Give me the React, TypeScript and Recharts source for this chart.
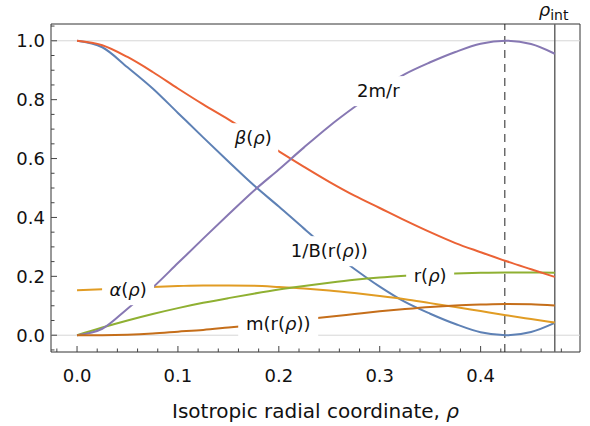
import { LineChart, Line, XAxis, YAxis, ReferenceLine, ReferenceDot, ReferenceArea } from 'recharts'

// sample points along the isotropic radial coordinate
const rho = [0, 0.025, 0.05, 0.075, 0.1, 0.125, 0.15, 0.175, 0.2, 0.225, 0.25, 0.275, 0.3, 0.325, 0.35, 0.375, 0.4, 0.425, 0.45, 0.4735]

const invB = [1.0, 0.978, 0.91, 0.838, 0.755, 0.672, 0.59, 0.51, 0.437, 0.362, 0.29, 0.225, 0.165, 0.113, 0.073, 0.038, 0.01, 0.0, 0.011, 0.042]
const alpha = [0.153, 0.156, 0.16, 0.164, 0.167, 0.169, 0.169, 0.168, 0.164, 0.159, 0.152, 0.143, 0.133, 0.122, 0.109, 0.096, 0.082, 0.068, 0.055, 0.043]
const radius = [0, 0.026, 0.05, 0.072, 0.092, 0.11, 0.126, 0.141, 0.155, 0.167, 0.178, 0.188, 0.196, 0.202, 0.207, 0.21, 0.212, 0.213, 0.213, 0.2125]
const beta = [1.0, 0.985, 0.945, 0.894, 0.838, 0.784, 0.733, 0.679, 0.625, 0.572, 0.521, 0.474, 0.432, 0.39, 0.35, 0.313, 0.282, 0.252, 0.224, 0.198]
const twoMr = [0, 0.022, 0.09, 0.162, 0.245, 0.328, 0.41, 0.49, 0.563, 0.638, 0.71, 0.775, 0.835, 0.887, 0.927, 0.962, 0.99, 1.0, 0.989, 0.956]
const mass = [0, 0.0003, 0.002, 0.006, 0.012, 0.018, 0.026, 0.034, 0.043, 0.053, 0.063, 0.072, 0.081, 0.089, 0.096, 0.101, 0.104, 0.106, 0.105, 0.101]

const RHO_HORIZON = 0.424
const RHO_INT = 0.4735

const xMajor = [0, 0.1, 0.2, 0.3, 0.4]
const xTicks = [-0.02, 0, 0.02, 0.04, 0.06, 0.08, 0.1, 0.12, 0.14, 0.16, 0.18, 0.2, 0.22, 0.24, 0.26, 0.28, 0.3, 0.32, 0.34, 0.36, 0.38, 0.4, 0.42, 0.44, 0.46, 0.48]
const yMajor = [0, 0.2, 0.4, 0.6, 0.8, 1.0]
const yTicks = [-0.05, 0, 0.05, 0.1, 0.15, 0.2, 0.25, 0.3, 0.35, 0.4, 0.45, 0.5, 0.55, 0.6, 0.65, 0.7, 0.75, 0.8, 0.85, 0.9, 0.95, 1.0, 1.05]

const X_DOMAIN: [number, number] = [-0.0258, 0.4985]
const Y_DOMAIN: [number, number] = [-0.057, 1.057]

const data = rho.map((r, i) => ({
  rho: r,
  invB: invB[i],
  alpha: alpha[i],
  radius: radius[i],
  beta: beta[i],
  twoMr: twoMr[i],
  mass: mass[i],
}))

const FONT = 'DejaVu Sans'
const AXIS_COLOR = '#444'

const isIn = (v: number, list: number[]) => list.some(m => Math.abs(m - v) < 1e-9)

const YTick = (props: any) => {
  const { x, y, payload } = props
  const major = isIn(payload.value, yMajor)
  return (
    <g>
      <line x1={x} x2={x + (major ? 6 : 3.5)} y1={y} y2={y} stroke={AXIS_COLOR} strokeWidth={1} />
      {major && (
        <text x={x - 6} y={y + 6.5} textAnchor="end" fontSize={18} fontFamily={FONT} fill="#111">
          {payload.value.toFixed(1)}
        </text>
      )}
    </g>
  )
}

const XTick = (props: any) => {
  const { x, y, payload } = props
  const major = isIn(payload.value, xMajor)
  return (
    <g>
      <line x1={x} x2={x} y1={y} y2={y - (major ? 6 : 3.5)} stroke={AXIS_COLOR} strokeWidth={1} />
      {major && (
        <text x={x} y={y + 30} textAnchor="middle" fontSize={18} fontFamily={FONT} fill="#111">
          {payload.value.toFixed(1)}
        </text>
      )}
    </g>
  )
}

// curve labels sit on a white box that breaks the curve underneath
const labels = [
  { x: 0.1746, y: 0.669, w: 50, parts: [['β', true], ['(', false], ['ρ', true], [')', false]] },
  { x: 0.2986, y: 0.829, w: 56, parts: [['2m/r', false]] },
  { x: 0.25, y: 0.2854, w: 92, parts: [['1/B(r(', false], ['ρ', true], ['))', false]] },
  { x: 0.0506, y: 0.153, w: 52, parts: [['α', true], ['(', false], ['ρ', true], [')', false]] },
  { x: 0.35, y: 0.2005, w: 48, parts: [['r(', false], ['ρ', true], [')', false]] },
  { x: 0.1994, y: 0.0374, w: 80, parts: [['m(r(', false], ['ρ', true], ['))', false]] },
]

const makeLabel = (w: number, parts: any[]) => (p: any) => (
  <g>
    <rect x={p.cx - w / 2} y={p.cy - 15} width={w} height={30} fill="#fff" />
    <text x={p.cx} y={p.cy + 6} textAnchor="middle" fontSize={18} fontFamily={FONT} fill="#111">
      {parts.map(([t, it]: [string, boolean], i: number) => (
        <tspan key={i} fontStyle={it ? 'italic' : 'normal'}>{t}</tspan>
      ))}
    </text>
  </g>
)

const RhoIntLabel = (p: any) => (
  <text x={p.cx - 16} y={p.cy - 8} fontSize={18} fontFamily={FONT} fill="#111">
    <tspan fontStyle="italic">ρ</tspan>
    <tspan fontSize={14} dy={4}>int</tspan>
  </text>
)

const AxisTitle = (props: any) => {
  const vb = props.viewBox
  return (
    <text x={vb.x + vb.width / 2} y={vb.y + 66} textAnchor="middle" fontSize={20} fontFamily={FONT} fill="#111">
      Isotropic radial coordinate, <tspan fontStyle="italic">ρ</tspan>
    </text>
  )
}

export default function App() {
  return (
    <div style={{ position: 'absolute', left: 0, top: 0, background: '#fff' }}>
      <LineChart width={590} height={426} data={data} margin={{ top: 24, right: 10, bottom: 0, left: 0 }}>
        <XAxis
          dataKey="rho"
          type="number"
          domain={X_DOMAIN}
          allowDataOverflow
          ticks={xTicks}
          interval={0}
          tick={XTick}
          tickLine={false}
          axisLine={false}
          tickSize={0}
          tickMargin={0}
          height={74}
          label={AxisTitle}
        />
        <YAxis
          type="number"
          domain={Y_DOMAIN}
          allowDataOverflow
          ticks={yTicks}
          interval={0}
          tick={YTick}
          tickLine={false}
          axisLine={false}
          tickSize={0}
          tickMargin={0}
          width={51}
        />
        <ReferenceLine y={0} stroke="#d6d6d6" strokeWidth={1} />
        <ReferenceLine y={1} stroke="#d6d6d6" strokeWidth={1} />
        <ReferenceLine x={RHO_HORIZON} stroke="#222" strokeWidth={1} strokeDasharray="8 6" />
        <ReferenceLine x={RHO_INT} stroke="#666" strokeWidth={1.5} />

        <Line dataKey="invB" type="monotone" stroke="#5E81B5" strokeWidth={2} dot={false} isAnimationActive={false} />
        <Line dataKey="alpha" type="monotone" stroke="#E19C24" strokeWidth={2} dot={false} isAnimationActive={false} />
        <Line dataKey="radius" type="monotone" stroke="#8FB032" strokeWidth={2} dot={false} isAnimationActive={false} />
        <Line dataKey="beta" type="monotone" stroke="#EB6235" strokeWidth={2} dot={false} isAnimationActive={false} />
        <Line dataKey="twoMr" type="monotone" stroke="#8778B3" strokeWidth={2} dot={false} isAnimationActive={false} />
        <Line dataKey="mass" type="monotone" stroke="#C56E1A" strokeWidth={2} dot={false} isAnimationActive={false} />

        {labels.map((l, i) => (
          <ReferenceDot key={i} x={l.x} y={l.y} r={0} ifOverflow="visible" shape={makeLabel(l.w, l.parts)} />
        ))}
        <ReferenceDot x={RHO_INT} y={Y_DOMAIN[1]} r={0} ifOverflow="visible" shape={RhoIntLabel} />

        <ReferenceArea
          x1={X_DOMAIN[0]}
          x2={X_DOMAIN[1]}
          y1={Y_DOMAIN[0]}
          y2={Y_DOMAIN[1]}
          fill="none"
          fillOpacity={0}
          stroke="#333"
          strokeWidth={1}
          ifOverflow="visible"
        />
      </LineChart>
    </div>
  )
}
